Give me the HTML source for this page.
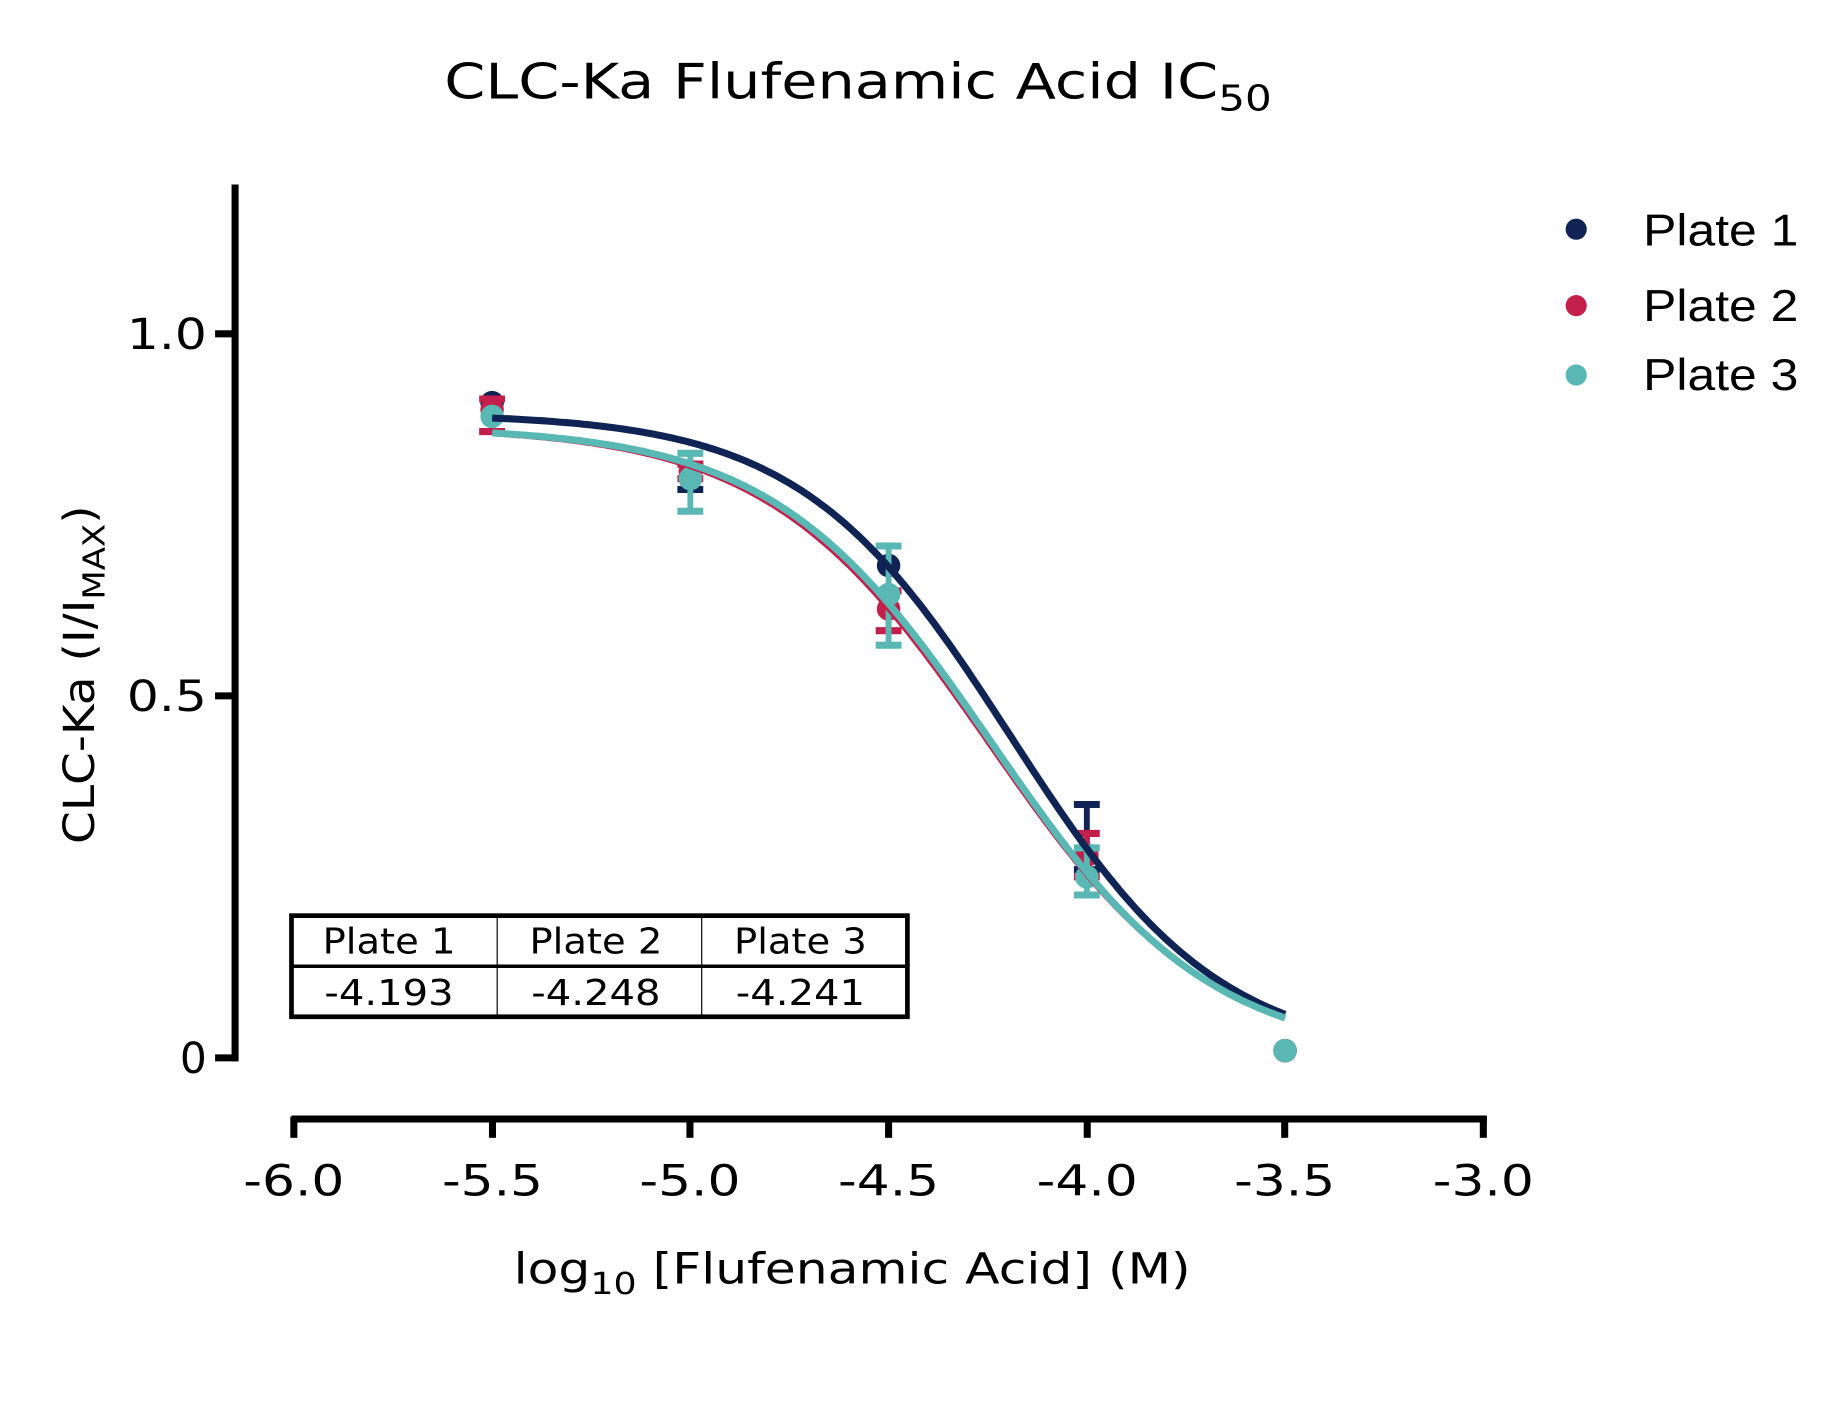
<!DOCTYPE html>
<html><head><style>html,body{margin:0;padding:0;background:#fff}svg{display:block}</style></head>
<body>
<svg id="s" width="1843" height="1407" viewBox="0 0 1568 1197" preserveAspectRatio="none" xmlns="http://www.w3.org/2000/svg" font-family="'DejaVu Sans', sans-serif">
<rect width="1568" height="1197" fill="#fff"/>
<text x="378" y="84" font-size="42" textLength="704" lengthAdjust="spacingAndGlyphs">CLC-Ka Flufenamic Acid IC<tspan font-size="30" dy="10">50</tspan></text>
<g stroke="#000" stroke-width="6" fill="none">
<line x1="200" y1="157" x2="200" y2="903"/>
<line x1="183" y1="284" x2="202" y2="284"/>
<line x1="183" y1="592" x2="202" y2="592"/>
<line x1="183" y1="900" x2="202" y2="900"/>
<line x1="248" y1="952" x2="1265" y2="952"/>
<line x1="250" y1="950" x2="250" y2="968"/>
<line x1="419" y1="950" x2="419" y2="968"/>
<line x1="587" y1="950" x2="587" y2="968"/>
<line x1="756" y1="950" x2="756" y2="968"/>
<line x1="925" y1="950" x2="925" y2="968"/>
<line x1="1093" y1="950" x2="1093" y2="968"/>
<line x1="1262" y1="950" x2="1262" y2="968"/>
</g>
<g font-size="36" text-anchor="end">
<text x="176" y="297" textLength="68" lengthAdjust="spacingAndGlyphs">1.0</text>
<text x="176" y="605" textLength="68" lengthAdjust="spacingAndGlyphs">0.5</text>
<text x="176" y="913">0</text>
</g>
<g font-size="36" text-anchor="middle" lengthAdjust="spacingAndGlyphs">
<text x="250" y="1017" textLength="86" lengthAdjust="spacingAndGlyphs">-6.0</text><text x="419" y="1017" textLength="86" lengthAdjust="spacingAndGlyphs">-5.5</text><text x="587" y="1017" textLength="86" lengthAdjust="spacingAndGlyphs">-5.0</text>
<text x="756" y="1017" textLength="86" lengthAdjust="spacingAndGlyphs">-4.5</text><text x="925" y="1017" textLength="86" lengthAdjust="spacingAndGlyphs">-4.0</text><text x="1093" y="1017" textLength="86" lengthAdjust="spacingAndGlyphs">-3.5</text><text x="1262" y="1017" textLength="86" lengthAdjust="spacingAndGlyphs">-3.0</text>
</g>
<text x="437" y="1092" font-size="36" textLength="576" lengthAdjust="spacingAndGlyphs">log<tspan font-size="26" dy="9">10</tspan><tspan dy="-9"> [Flufenamic Acid] (M)</tspan></text>
<text transform="translate(80,718) rotate(-90)" font-size="36" textLength="288" lengthAdjust="spacingAndGlyphs">CLC-Ka (I/I<tspan font-size="26" dy="9">MAX</tspan><tspan dy="-9">)</tspan></text>
<g id="data"></g>
<g stroke="#000" fill="none">
<rect x="248" y="779" width="524" height="86" stroke-width="4"/>
<line x1="248" y1="822" x2="772" y2="822" stroke-width="3"/>
<line x1="423" y1="779" x2="423" y2="865" stroke-width="1"/>
<line x1="597" y1="779" x2="597" y2="865" stroke-width="1"/>
</g>
<g font-size="30" text-anchor="middle">
<text x="331" y="811" textLength="113" lengthAdjust="spacingAndGlyphs">Plate 1</text><text x="507" y="811" textLength="113" lengthAdjust="spacingAndGlyphs">Plate 2</text><text x="681" y="811" textLength="113" lengthAdjust="spacingAndGlyphs">Plate 3</text>
<text x="331" y="855" textLength="110" lengthAdjust="spacingAndGlyphs">-4.193</text><text x="507" y="855" textLength="110" lengthAdjust="spacingAndGlyphs">-4.248</text><text x="681" y="855" textLength="110" lengthAdjust="spacingAndGlyphs">-4.241</text>
</g>
<circle cx="1341" cy="195" r="9" fill="#0f2454"/>
<circle cx="1341" cy="260" r="9" fill="#c41e4a"/>
<circle cx="1341" cy="319" r="9" fill="#5ab8b4"/>
<g font-family="'Liberation Sans', sans-serif" font-size="38">
<text x="1398" y="209" textLength="132" lengthAdjust="spacingAndGlyphs">Plate 1</text><text x="1398" y="273" textLength="132" lengthAdjust="spacingAndGlyphs">Plate 2</text><text x="1398" y="332" textLength="132" lengthAdjust="spacingAndGlyphs">Plate 3</text>
</g>
</svg>
<script>
(function(){
var X=function(v){return 250+(v+6)*337.33},Y=function(v){return 900-v*616};
var series=[
 {c:'#0f2454',top:0.89,ic:-4.193,h:1.645,w:6,
  pts:[[-5.5,0.905,0.905,0.905],[-5.0,0.80,0.785,0.82],[-4.5,0.68,0.68,0.68],[-4.0,0.28,0.26,0.35],[-3.5,0.01,0.01,0.01]]},
 {c:'#c41e4a',top:0.872,ic:-4.248,h:1.56,w:5,
  pts:[[-5.5,0.895,0.865,0.91],[-5.0,0.81,0.80,0.82],[-4.5,0.62,0.59,0.645],[-4.0,0.28,0.25,0.31],[-3.5,0.01,0.01,0.01]]},
 {c:'#5ab8b4',top:0.872,ic:-4.241,h:1.58,w:6,
  pts:[[-5.5,0.886,0.886,0.886],[-5.0,0.80,0.755,0.835],[-4.5,0.64,0.57,0.707],[-4.0,0.25,0.225,0.29],[-3.5,0.01,0.01,0.01]]}
];
var g=document.getElementById('data'),ns='http://www.w3.org/2000/svg';
function el(n,a){var e=document.createElementNS(ns,n);for(var k in a)e.setAttribute(k,a[k]);g.appendChild(e);return e;}
series.forEach(function(s){
 s.pts.forEach(function(p){
  var x=X(p[0]);
  if(p[3]-p[2]>0.005){
   el('line',{x1:x,x2:x,y1:Y(p[2]),y2:Y(p[3]),stroke:s.c,'stroke-width':5});
   el('line',{x1:x-11,x2:x+11,y1:Y(p[2]),y2:Y(p[2]),stroke:s.c,'stroke-width':6});
   el('line',{x1:x-11,x2:x+11,y1:Y(p[3]),y2:Y(p[3]),stroke:s.c,'stroke-width':6});
  }
  el('circle',{cx:x,cy:Y(p[1]),r:10,fill:s.c});
 });
});
series.forEach(function(s){
 var d='';
 for(var i=0;i<=200;i++){var v=-5.5+2*i/200;var y=s.top/(1+Math.pow(10,(v-s.ic)*s.h));d+=(i?'L':'M')+X(v).toFixed(1)+','+Y(y).toFixed(1);}
 el('path',{d:d,fill:'none',stroke:s.c,'stroke-width':s.w});
});
})();
</script>
</body></html>
